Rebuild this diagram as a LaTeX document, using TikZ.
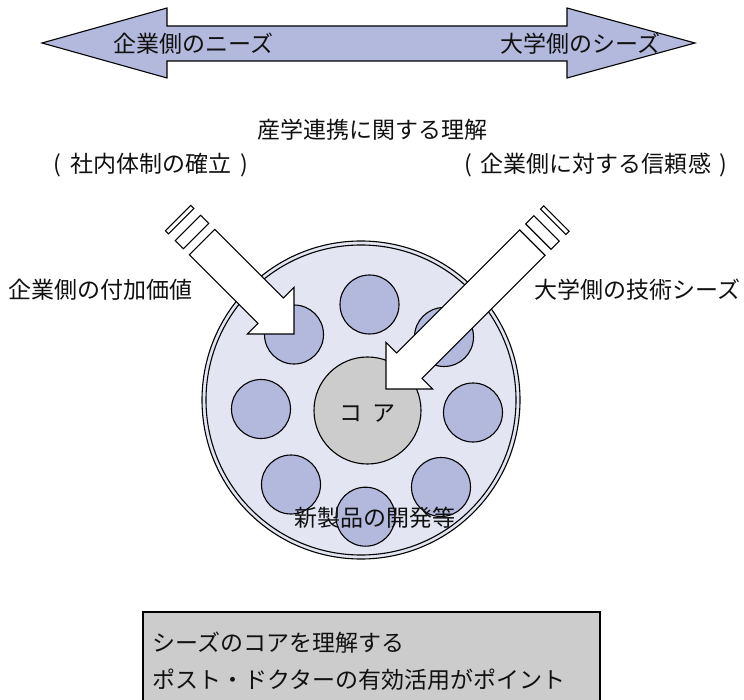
\documentclass[tikz,border=0pt]{standalone}
\usepackage{fontspec}
\setmainfont{Noto Sans CJK JP}
\definecolor{arrowblue}{HTML}{B3B9DD}
\definecolor{pale}{HTML}{E3E5F3}
\definecolor{coregray}{HTML}{CCCCCC}
\definecolor{ink}{HTML}{111111}
\newcommand{\blockarrowshape}[1]{%
  \draw[arrowbody] (0,0) -- (-33,33) -- (-33,18) -- (-#1,18) -- (-#1,-18) -- (-33,-18) -- (-33,-33) -- cycle;
  \draw[arrowbody] (-#1-8.5,18) rectangle (-#1-20,-18);
  \draw[arrowbody] (-#1-29.5,18) rectangle (-#1-34,-18);
}
\begin{document}
\begin{tikzpicture}[x=1pt,y=-1pt,
  txt/.style={font=\fontsize{23}{27}\selectfont, text=ink, inner sep=0pt},
  arrowbody/.style={draw=black, fill=white, line width=1.1pt, line join=miter},
  smallc/.style={circle, draw=black, fill=arrowblue, line width=1.1pt, minimum size=59pt, inner sep=0pt},
  corec/.style={circle, draw=black, fill=coregray, line width=1.1pt, minimum size=107pt, inner sep=0pt},
  bigc/.style={circle, draw=black, fill=pale, line width=1.1pt, inner sep=0pt},
  notebox/.style={draw=black, fill=coregray, line width=1.1pt}
]
\useasboundingbox (0,0) rectangle (744,700);

% top double arrow
\draw[fill=arrowblue, draw=black, line width=1.1pt, line join=miter]
  (42,43) -- (167,8) -- (167,26) -- (567,26) -- (567,8) -- (695,43)
  -- (567,78) -- (567,61) -- (167,61) -- (167,78) -- cycle;
\node[txt, anchor=west] (needs) at (113,44) {企業側のニーズ};
\node[txt, anchor=east] (seeds) at (661,44) {大学側のシーズ};

% labels
\node[txt] (rikai) at (372,130) {産学連携に関する理解};
\node[txt] (shanai) at (151,165) {(\hspace{9pt}社内体制の確立\hspace{9pt})};
\node[txt] (shinrai) at (596,165) {(\hspace{9pt}企業側に対する信頼感\hspace{9pt})};
\node[txt, anchor=east] (fuka) at (193,290) {企業側の付加価値};
\node[txt, anchor=west] (gijutsu) at (534,290) {大学側の技術シーズ};

% big circle
\node[bigc, minimum size=318pt] (outer) at (361,400) {};
\node[circle, draw=black, line width=1.1pt, minimum size=310pt, inner sep=0pt] (inner) at (361,400) {};

% small circles
\node[smallc] (c1) at (369.5,304.5) {};
\node[smallc] (c2) at (294,334.5) {};
\node[smallc] (c3) at (444,337) {};
\node[smallc] (c4) at (261,409) {};
\node[smallc] (c5) at (473,412.5) {};
\node[smallc] (c6) at (291,484.5) {};
\node[smallc] (c7) at (441,487) {};
\node[smallc] (c8) at (365.5,516.7) {};

% core
\node[corec] (core) at (367.5,410.5) {};
\node[txt] (coretext) at (367.5,414) {コ\hspace{10pt}ア};

\node[txt] (dev) at (375,518) {新製品の開発等};

% striped block arrows
\begin{scope}[shift={(294,334)}, rotate=-45]
  \blockarrowshape{130}
\end{scope}
\begin{scope}[shift={(386,389)}, rotate=-135]
  \blockarrowshape{207}
\end{scope}

% note box
\draw[notebox] (143,612) rectangle (600,702);
\node[txt, anchor=west] (note1) at (152,643) {シーズのコアを理解する};
\node[txt, anchor=west] (note2) at (152,680) {ポスト・ドクターの有効活用がポイント};
\end{tikzpicture}
\end{document}
